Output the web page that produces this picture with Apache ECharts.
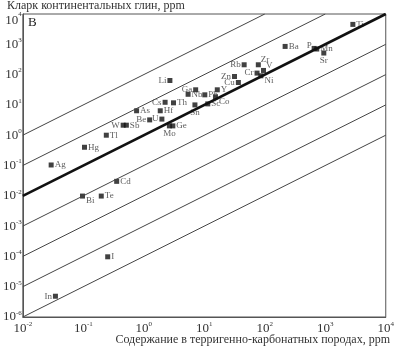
<!DOCTYPE html>
<html>
<head>
<meta charset="utf-8">
<script src="https://cdn.jsdelivr.net/npm/echarts@6/dist/echarts.min.js"></script>
<style>
  html, body { margin: 0; padding: 0; background: #fff; }
  #chart { width: 397px; height: 348px; }
</style>
</head>
<body>
<div id="chart"></div>
<script>
// element, content in terrigenous-carbonate rocks (x), clay clarke (y), label position
var elements = ['Li', 'Ga', 'Nb', 'Pb', 'Y', 'Co', 'Sc', 'Sn', 'Th', 'Cs', 'As', 'Hf', 'Be', 'U',
  'W', 'Sb', 'Mo', 'Ge', 'Tl', 'Ag', 'Hg', 'Cd', 'Bi', 'Te', 'I', 'In',
  'Ti', 'Ba', 'P', 'Mn', 'Sr', 'Rb', 'Zr', 'V', 'Cr', 'Ni', 'Zn', 'Cu']
var rockValues = [2.7, 7.2, 5.4, 10.2, 16.4, 15.3, 11.4, 7.0, 3.1, 2.25, 0.76, 1.87, 1.25, 1.99,
  0.456, 0.515, 2.65, 3.02, 0.24, 0.0294, 0.1045, 0.356, 0.097, 0.198, 0.253, 0.0346,
  2860, 217, 655, 723, 946, 45.6, 78.2, 95.3, 74.5, 86.3, 31.6, 36.6]
var clayValues = [64, 31.5, 22.4, 21.5, 31.5, 18.5, 10.8, 10.0, 11.7, 12.2, 6.4, 6.4, 3.2, 3.4,
  2.14, 2.14, 2.03, 2.03, 1.0, 0.104, 0.40, 0.030, 0.0098, 0.0098, 0.000097, 0.00000485,
  4540, 851, 731, 698, 515, 211, 211, 137, 112, 91.4, 86.7, 54.9]
var labelPos = ['left', 'left', 'right', 'right', 'right', 'br', 'right', 'bottom', 'right', 'left', 'right', 'right', 'left', 'left',
  'left', 'right', 'bottom', 'right', 'right', 'right', 'right', 'right', 'br', 'right', 'right', 'left',
  'right', 'right', 'tl', 'right', 'bottom', 'left', 'tr', 'tr', 'left', 'br', 'left', 'left']

// ratio lines y = k * x
var ratios = [100, 10, 1, 0.1, 0.01, 0.001, 0.0001]
var xTicks = [0.01, 0.1, 1, 10, 100, 1000, 10000]
var yMin = 1e-6, yMax = 1e4

var chart = echarts.init(document.getElementById('chart'))

function expOf(v) {
  return Math.round(Math.log(v) / Math.LN10)
}
function powLabel(v) {
  return '{b|10}{s|' + expOf(v) + '}'
}
function yPowLabel(v) {
  var p = expOf(v)
  // top label sits a bit lower, inside the frame
  if (p === 4) return '{bt|10}{st|4}'
  return powLabel(v)
}

var axisRich = {
  b: { fontFamily: 'Liberation Serif', fontSize: 13, color: '#333' },
  s: { fontFamily: 'Liberation Serif', fontSize: 7, color: '#333', padding: [0, 0, 8, 0] },
  bt: { fontFamily: 'Liberation Serif', fontSize: 13, color: '#333', padding: [14, 0, 0, 0] },
  st: { fontFamily: 'Liberation Serif', fontSize: 7, color: '#333', padding: [0, 0, 0, 0] }
}

var lineSeries = ratios.map(function (k) {
  var x0 = xTicks[0], x1 = xTicks[xTicks.length - 1]
  var y0 = k * x0, y1 = k * x1
  if (y1 > yMax) { x1 = yMax / k; y1 = yMax }
  if (y0 < yMin) { x0 = yMin / k; y0 = yMin }
  return {
    type: 'line',
    data: [[x0, y0], [x1, y1]],
    symbol: 'none',
    silent: true,
    lineStyle: { color: k === 1 ? '#111' : '#444', width: k === 1 ? 2.6 : 1 }
  }
})

function labelFor(pos) {
  var l = { show: true, fontFamily: 'Liberation Serif', fontSize: 9, color: '#333', distance: 1 }
  if (pos === 'br') { l.position = 'right'; l.offset = [0, 5] }
  else if (pos === 'tr') { l.position = 'right'; l.offset = [-1, -5] }
  else if (pos === 'tl') { l.position = 'left'; l.offset = [1, -3] }
  else l.position = pos
  return l
}

var points = elements.map(function (el, i) {
  return { name: el, value: [rockValues[i], clayValues[i]], label: labelFor(labelPos[i]) }
})

chart.setOption({
  backgroundColor: '#fff',
  animation: false,
  title: [{
    text: 'Кларк континентальных глин, ppm',
    left: 2, top: -5,
    textStyle: { fontFamily: 'Liberation Serif', fontSize: 12, fontWeight: 'normal', color: '#333' }
  }, {
    text: 'Содержание в терригенно-карбонатных породах, ppm',
    right: 2, bottom: -3,
    textStyle: { fontFamily: 'Liberation Serif', fontSize: 12, fontWeight: 'normal', color: '#333' }
  }, {
    text: 'В',
    left: 23, top: 11,
    textStyle: { fontFamily: 'Liberation Serif', fontSize: 13, fontWeight: 'normal', color: '#222' }
  }],
  grid: {
    left: 19, top: 14, right: 3, bottom: 31,
    show: true, borderColor: '#555', borderWidth: 1
  },
  xAxis: {
    type: 'log', logBase: 10, min: 0.01, max: 10000, interval: 1,
    axisLine: { lineStyle: { color: '#555' } },
    axisTick: { show: false },
    splitLine: { show: false },
    axisLabel: { formatter: powLabel, rich: axisRich, margin: 4 }
  },
  yAxis: {
    type: 'log', logBase: 10, min: yMin, max: yMax, interval: 1,
    axisLine: { lineStyle: { color: '#555' } },
    axisTick: { show: false },
    splitLine: { show: false },
    axisLabel: { formatter: yPowLabel, rich: axisRich, margin: 1 }
  },
  series: lineSeries.concat([{
    type: 'scatter',
    symbol: 'rect',
    symbolSize: 5,
    itemStyle: { color: '#111' },
    label: { formatter: '{b}' },
    data: points
  }])
})
</script>
</body>
</html>
